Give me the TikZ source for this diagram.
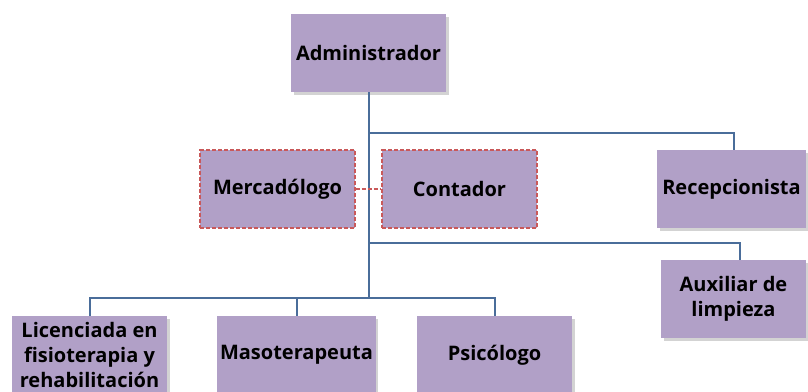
\documentclass[tikz,border=0pt]{standalone}
\usepackage{fontspec}
\setmainfont{Open Sans}
\usetikzlibrary{shadows}

\definecolor{puesto}{HTML}{B1A0C7}
\definecolor{linea}{HTML}{4A6D9A}
\definecolor{borde}{HTML}{C9595A}

\begin{document}
\begin{tikzpicture}[x=0.75pt,y=-0.75pt,
		cargo/.style={fill=puesto,minimum width=116pt,minimum height=58.5pt,inner sep=2pt,
			align=center,font=\fontsize{15}{19}\selectfont\bfseries,
			drop shadow={shadow xshift=2pt,shadow yshift=-2.5pt,opacity=0.35}},
		externo/.style={fill=puesto,draw=borde,dash pattern=on 3pt off 1.5pt,line width=1.3pt,
			minimum width=116pt,minimum height=58.5pt,font=\fontsize{15}{19}\selectfont\bfseries},
		link/.style={draw=linea,line width=1.5pt},
		nexo/.style={draw=borde,dash pattern=on 3pt off 1.5pt,line width=1.3pt}]
			\useasboundingbox (0,0) rectangle (808,392);
			
			\node[cargo] (admin) at (368.5,53) {Administrador};
			\node[externo] (merca) at (277.5,189) {Mercadólogo};
			\node[externo] (conta) at (459.5,189) {Contador};
			\node[cargo,minimum width=112pt] (recep) at (731.5,189) {Recepcionista};
			\node[cargo,minimum width=109pt] (aux) at (733.5,299) {Auxiliar de\\limpieza};
			\node[cargo] (lic) at (89.5,355) {Licenciada en\\fisioterapia y\\rehabilitación};
			\node[cargo] (maso) at (296.5,355) {Masoterapeuta};
			\node[cargo] (psic) at (494.5,355) {Psicólogo};
			
			\coordinate (ramaA) at (368.5,133);
			\coordinate (ramaB) at (368.5,243);
			\coordinate (ramaC) at (368.5,298);
			
			\draw[link] (admin.south) -- (ramaC);
			\draw[link] (ramaA) -| ([xshift=2pt]recep.north);
			\draw[link] (ramaB) -| ([xshift=5pt]aux.north);
			\draw[link] (lic.north) |- (ramaC) -| (psic.north);
			\draw[link] (maso.north) -- (maso.north |- ramaC);
			\draw[nexo] (merca.east) -- (conta.west);
			
		\end{tikzpicture}
\end{document}
